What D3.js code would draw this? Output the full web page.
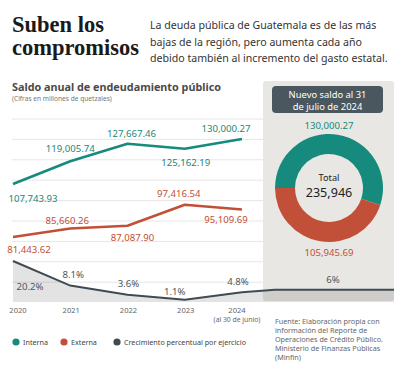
<!DOCTYPE html>
<html>
<head>
<meta charset="utf-8">
<script src="https://cdn.jsdelivr.net/npm/d3@7"></script>
<style>
  body { margin: 0; background: #fff; }
  svg { display: block; font-family: "Noto Sans", sans-serif; }
</style>
</head>
<body>
<div id="chart"></div>
<script>
// datos
var years = ["2020", "2021", "2022", "2023", "2024"];
var interna = [107743.93, 119005.74, 127667.46, 125162.19, 130000.27];
var externa = [81443.62, 85660.26, 87087.90, 97416.54, 95109.69];
var growth = [20.2, 8.1, 3.6, 1.1, 4.8];
var growthNew = 6;
var saldoNames = ["Interna", "Externa"];
var saldoNuevo = [130000.27, 105945.69];
var totalNuevo = "235,946";

var width = 400, height = 370;
var teal = "#158a7d", red = "#c24f37", slate = "#3f4b52";

var svg = d3.select("#chart").append("svg")
    .attr("width", width)
    .attr("height", height);

// header
var title = svg.append("text")
    .attr("font-family", "'Liberation Serif', serif")
    .attr("font-weight", "bold")
    .attr("font-size", 22.5)
    .attr("fill", "#1a1a1a");
title.append("tspan").attr("x", 12).attr("y", 32).text("Suben los");
title.append("tspan").attr("x", 12).attr("y", 55).text("compromisos");

var sub = svg.append("text")
    .attr("font-size", 10.6)
    .attr("fill", "#333");
["La deuda pública de Guatemala es de las más",
 "bajas de la región, pero aumenta cada año",
 "debido también al incremento del gasto estatal."].forEach(function(t, i) {
    sub.append("tspan").attr("x", 150).attr("y", 29 + i * 16.5).text(t);
});

svg.append("text")
    .attr("x", 12).attr("y", 91)
    .attr("font-size", 10.8)
    .attr("font-weight", "bold")
    .attr("fill", "#4a4a4a")
    .text("Saldo anual de endeudamiento público");

svg.append("text")
    .attr("x", 12).attr("y", 101)
    .attr("font-size", 6.6)
    .attr("fill", "#777")
    .text("(Cifras en millones de quetzales)");

// scales
var x = d3.scalePoint().domain(years).range([13, 242]);
var y = d3.scaleLinear().domain([80000, 130000]).range([240, 139]);
var yg = d3.scaleLinear().domain([0, 20]).range([302, 261.4]);

var panel = { x: 263, y: 81, w: 131, h: 220 };

// panel background
svg.append("rect")
    .attr("x", panel.x).attr("y", panel.y)
    .attr("width", panel.w).attr("height", panel.h)
    .attr("rx", 3)
    .attr("fill", "#e8e7e3");

// grid lines
var gridY = d3.range(9).map(function(i) { return 119 + i * 20.4; });
svg.append("g")
    .selectAll("line")
    .data(gridY)
    .enter().append("line")
    .attr("x1", 12).attr("x2", panel.x)
    .attr("y1", function(d) { return d; })
    .attr("y2", function(d) { return d; })
    .attr("stroke", "#e6e6e6")
    .attr("stroke-width", 1);

// growth series (plus new saldo point inside the panel)
var gData = growth.map(function(v, i) { return { x: x(years[i]), v: v }; });
gData.push({ x: panel.x + 12, v: growthNew });
gData.push({ x: panel.x + panel.w, v: growthNew });

var area = d3.area()
    .x(function(d) { return d.x; })
    .y0(yg(0))
    .y1(function(d) { return yg(d.v); });

svg.append("path")
    .datum(gData)
    .attr("d", area)
    .attr("fill", "#000")
    .attr("fill-opacity", 0.11);

svg.append("path")
    .datum(gData)
    .attr("d", d3.line().x(function(d) { return d.x; }).y(function(d) { return yg(d.v); }))
    .attr("fill", "none")
    .attr("stroke", slate)
    .attr("stroke-width", 2);

// debt lines
function debtLine(values, colour) {
    svg.append("path")
        .datum(values)
        .attr("d", d3.line()
            .x(function(d, i) { return x(years[i]); })
            .y(function(d) { return y(d); }))
        .attr("fill", "none")
        .attr("stroke", colour)
        .attr("stroke-width", 2.6)
        .attr("stroke-linejoin", "round");
}
debtLine(interna, teal);
debtLine(externa, red);

var fmt = d3.format(",.2f");

// label offsets [dx, dy] relative to point
var internaOff = [[20, 18], [0, -9], [4, -7], [1, 17], [-16, -7]];
var externaOff = [[16, 16], [-3, -5], [5, 15], [-6, -8], [-16, 14]];
var growthOff = [[17, 29], [3, -8], [1, -8], [-10, -5], [-4, -7]];

function labels(values, offs, colour, f, scale) {
    svg.append("g")
        .selectAll("text")
        .data(values)
        .enter().append("text")
        .attr("x", function(d, i) { return x(years[i]) + offs[i][0]; })
        .attr("y", function(d, i) { return scale(d) + offs[i][1]; })
        .attr("text-anchor", "middle")
        .attr("font-size", 9.6)
        .attr("fill", colour)
        .text(f);
}
labels(interna, internaOff, teal, fmt, y);
labels(externa, externaOff, red, fmt, y);
labels(growth, growthOff, "#4d575d", function(d) { return d + "%"; }, yg);

svg.append("text")
    .attr("x", panel.x + 70).attr("y", yg(growthNew) - 7)
    .attr("text-anchor", "middle")
    .attr("font-size", 9.6)
    .attr("fill", "#4d575d")
    .text(growthNew + "%");

// x axis labels
svg.append("g")
    .selectAll("text")
    .data(years)
    .enter().append("text")
    .attr("x", function(d, i) { return x(d) + (i === 0 ? 5 : i === 4 ? -5 : 1); })
    .attr("y", 313)
    .attr("text-anchor", "middle")
    .attr("font-size", 7.6)
    .attr("fill", "#666")
    .text(function(d) { return d; });

svg.append("text")
    .attr("x", x("2024") - 5).attr("y", 322)
    .attr("text-anchor", "middle")
    .attr("font-size", 6.8)
    .attr("fill", "#666")
    .text("(al 30 de junio)");

// panel header
var cx = panel.x + 66, cy = 188;
svg.append("rect")
    .attr("x", 272).attr("y", 86)
    .attr("width", 111).attr("height", 27)
    .attr("rx", 4)
    .attr("fill", "#4b575e");
var head = svg.append("text")
    .attr("text-anchor", "middle")
    .attr("font-size", 9.4)
    .attr("fill", "#fff");
head.append("tspan").attr("x", 327.5).attr("y", 98).text("Nuevo saldo al 31");
head.append("tspan").attr("x", 327.5).attr("y", 109.5).text("de julio de 2024");

// donut
var pie = d3.pie()
    .sort(null)
    .startAngle(-Math.PI / 2)
    .endAngle(Math.PI * 1.5);

var arc = d3.arc()
    .innerRadius(34)
    .outerRadius(54);

var colourScale = d3.scaleOrdinal().domain(saldoNames).range([teal, red]);

var donut = svg.append("g")
    .attr("transform", "translate(" + cx + "," + cy + ")");

donut.selectAll("path")
    .data(pie(saldoNuevo))
    .enter().append("path")
    .attr("d", arc)
    .attr("fill", function(d, i) { return colourScale(saldoNames[i]); });

donut.append("text")
    .attr("y", -7.5).attr("text-anchor", "middle")
    .attr("font-size", 9.2).attr("fill", "#222")
    .text("Total");
donut.append("text")
    .attr("y", 8.5).attr("text-anchor", "middle")
    .attr("font-size", 12.6).attr("fill", "#222")
    .text(totalNuevo);

donut.append("text")
    .attr("y", -59).attr("text-anchor", "middle")
    .attr("font-size", 9.6).attr("fill", teal)
    .text(fmt(saldoNuevo[0]));
donut.append("text")
    .attr("y", 68).attr("text-anchor", "middle")
    .attr("font-size", 9.6).attr("fill", red)
    .text(fmt(saldoNuevo[1]));

// legend
var legendNames = ["Interna", "Externa", "Crecimiento percentual por ejercicio"];
var legendX = [16, 64, 117];
var legendColours = [teal, red, slate];
var legend = svg.append("g").selectAll("g")
    .data(legendNames)
    .enter().append("g")
    .attr("transform", function(d, i) { return "translate(" + legendX[i] + ",342)"; });
legend.append("circle")
    .attr("r", 3.6)
    .attr("fill", function(d, i) { return legendColours[i]; });
legend.append("text")
    .attr("x", 7).attr("y", 2.6)
    .attr("font-size", 7.2)
    .attr("fill", "#444")
    .text(function(d) { return d; });

// fuente
var src = svg.append("text")
    .attr("font-size", 7.2)
    .attr("fill", "#666");
["Fuente: Elaboración propia con",
 "información del Reporte de",
 "Operaciones de Crédito Público.",
 "Ministerio de Finanzas Públicas",
 "(Minfin)"].forEach(function(t, i) {
    src.append("tspan").attr("x", 275).attr("y", 324 + i * 9).text(t);
});
</script>
</body>
</html>
